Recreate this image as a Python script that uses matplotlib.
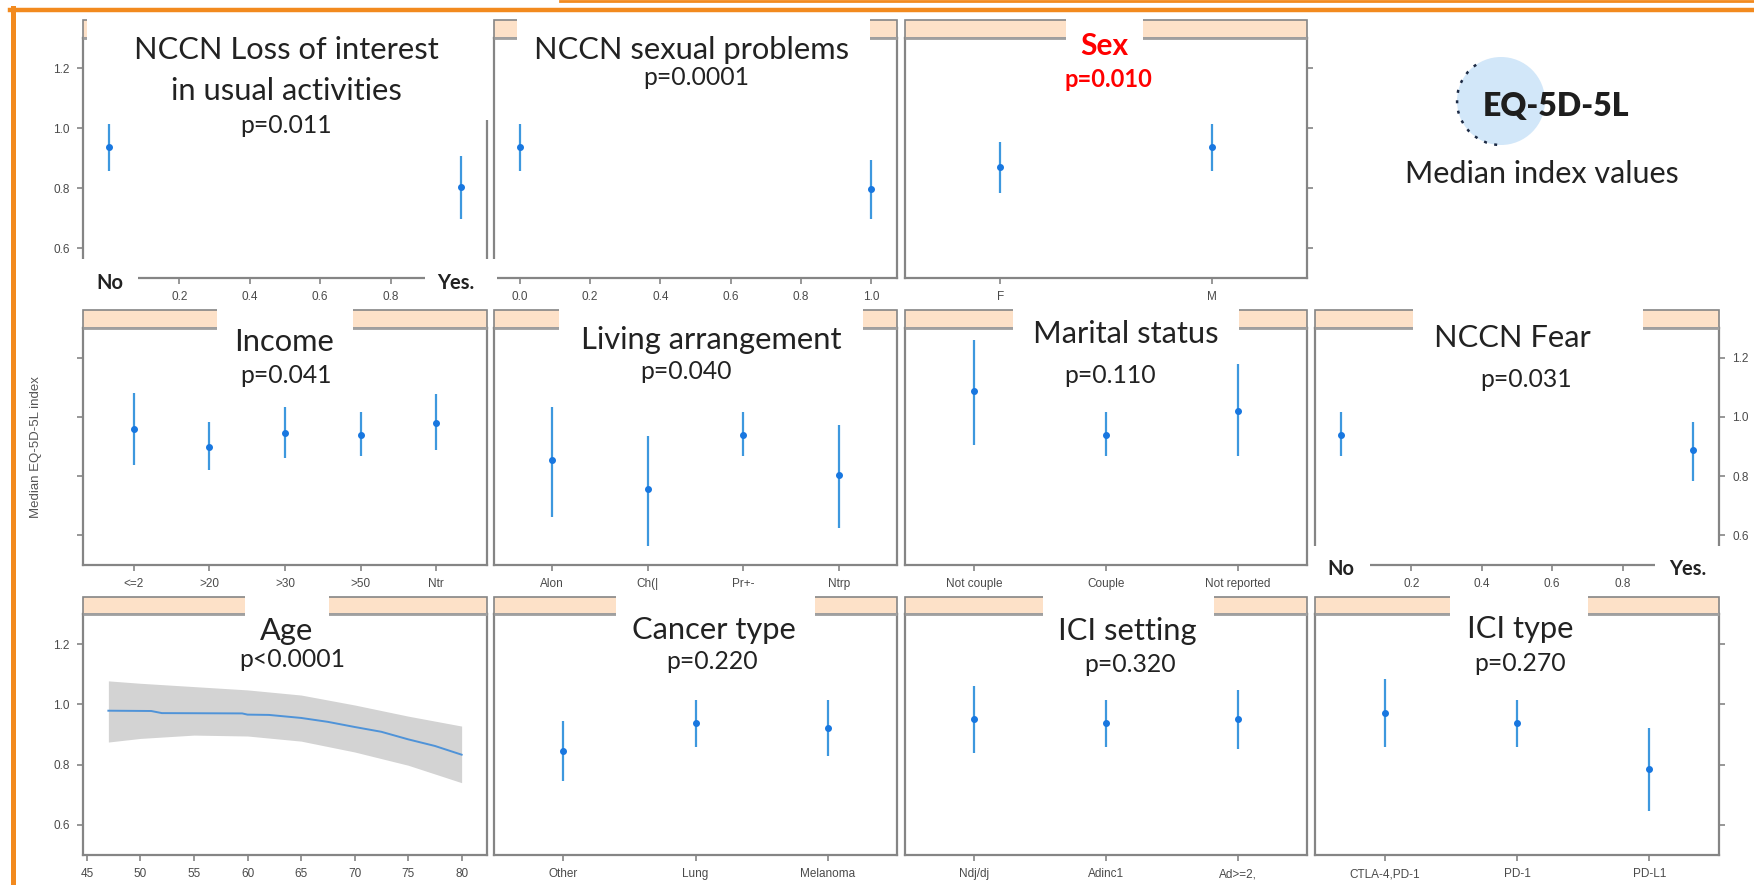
import matplotlib
matplotlib.use("Agg")
import matplotlib.pyplot as plt
from matplotlib.patches import Rectangle, Ellipse, Arc

# ---- data (fit, lower, upper) ----
loss_x = [0, 1]
loss_fit = [0.938, 0.804]
loss_lo = [0.858, 0.696]
loss_hi = [1.015, 0.908]

sexprob_x = [0, 1]
sexprob_fit = [0.938, 0.797]
sexprob_lo = [0.858, 0.696]
sexprob_hi = [1.015, 0.892]

sex_levels = ["F", "M"]
sex_fit = [0.871, 0.938]
sex_lo = [0.784, 0.858]
sex_hi = [0.955, 1.015]

income_levels = ["<=2", ">20", ">30", ">50", "Ntr"]
income_fit = [0.959, 0.900, 0.945, 0.939, 0.979]
income_lo = [0.839, 0.822, 0.861, 0.867, 0.887]
income_hi = [1.080, 0.982, 1.033, 1.016, 1.077]

living_levels = ["Alon", "Ch(|", "Pr+-", "Ntrp"]
living_fit = [0.853, 0.755, 0.939, 0.805]
living_lo = [0.663, 0.564, 0.867, 0.626]
living_hi = [1.033, 0.937, 1.016, 0.971]

marital_levels = ["Not couple", "Couple", "Not reported"]
marital_fit = [1.087, 0.939, 1.021]
marital_lo = [0.906, 0.867, 0.867]
marital_hi = [1.261, 1.016, 1.180]

fear_x = [0, 1]
fear_fit = [0.939, 0.887]
fear_lo = [0.867, 0.785]
fear_hi = [1.016, 0.982]

age_x = [47, 51, 52, 59.5, 60, 62, 65, 67.5, 70, 72.5, 75, 77.5, 80]
age_fit = [0.979, 0.978, 0.971, 0.970, 0.966, 0.965, 0.955, 0.942, 0.925, 0.909, 0.884, 0.862, 0.833]
age_band_x = [47, 50, 55, 60, 65, 70, 75, 80]
age_lo = [0.875, 0.887, 0.898, 0.895, 0.878, 0.842, 0.798, 0.740]
age_hi = [1.078, 1.070, 1.059, 1.048, 1.031, 0.998, 0.961, 0.928]

cancer_levels = ["Other", "Lung", "Melanoma"]
cancer_fit = [0.845, 0.939, 0.923]
cancer_lo = [0.745, 0.859, 0.829]
cancer_hi = [0.945, 1.014, 1.014]

setting_levels = ["Ndj/dj", "Adinc1", "Ad>=2,"]
setting_fit = [0.953, 0.939, 0.951]
setting_lo = [0.840, 0.859, 0.851]
setting_hi = [1.062, 1.014, 1.048]

icitype_levels = ["CTLA-4,PD-1", "PD-1", "PD-L1"]
icitype_fit = [0.972, 0.939, 0.784]
icitype_lo = [0.859, 0.859, 0.645]
icitype_hi = [1.084, 1.014, 0.920]

# ---- styling ----
W, H = 1754, 885
FRAME = "#858585"
PEACH = "#FDE1C8"
PT = "#1877E0"
CI = "#3D98DE"
ORANGE = "#F28A1E"
TICKC = "#4a4a4a"
TXT = "#222222"
TITLE_FONT = ["Lato", "DejaVu Sans"]
TICK_FONT = ["Liberation Sans", "DejaVu Sans"]

fig = plt.figure(figsize=(W / 100, H / 100), dpi=100)
fig.patch.set_facecolor("white")

cols = [(83, 487), (494, 897), (905, 1307), (1315, 1719)]
rows = [(20, 38, 278), (310, 328, 565), (597, 614, 855)]


def panel(r, c):
    x0, x1 = cols[c]
    _, y0, y1 = rows[r]
    ax = fig.add_axes([x0 / W, 1 - y1 / H, (x1 - x0) / W, (y1 - y0) / H])
    for s in ax.spines.values():
        s.set_color(FRAME)
        s.set_linewidth(1.6)
    ax.set_ylim(0.5, 1.3)
    ax.set_yticks([0.6, 0.8, 1.0, 1.2])
    ax.tick_params(colors=FRAME, labelcolor=TICKC, labelsize=8.5, length=4.5,
                   width=1.2, pad=5, left=False, labelleft=False)
    return ax


def fix_font(ax):
    for lab in ax.get_xticklabels() + ax.get_yticklabels():
        lab.set_family(TICK_FONT)


def factor_panel(ax, levels, fit, lo, hi):
    n = len(levels)
    pos = list(range(1, n + 1))
    ax.vlines(pos, lo, hi, color=CI, lw=1.6)
    ax.plot(pos, fit, "o", ms=4, color=PT)
    pad = 0.3 + 0.075 * n
    ax.set_xlim(1 - pad, n + pad)
    ax.set_xticks(pos)
    ax.set_xticklabels(levels)


def numeric_panel(ax, x, fit, lo, hi):
    ax.vlines(x, lo, hi, color=CI, lw=1.6)
    ax.plot(x, fit, "o", ms=4, color=PT)
    ax.set_xlim(-0.074, 1.074)
    ax.set_xticks([0, 0.2, 0.4, 0.6, 0.8, 1.0])
    ax.set_xticklabels(["0.0", "0.2", "0.4", "0.6", "0.8", "1.0"])


# row 1
ax = panel(0, 0)
numeric_panel(ax, loss_x, loss_fit, loss_lo, loss_hi)
ax.tick_params(axis="y", left=True, labelleft=True)
fix_font(ax)
ax = panel(0, 1)
numeric_panel(ax, sexprob_x, sexprob_fit, sexprob_lo, sexprob_hi)
fix_font(ax)
ax = panel(0, 2)
factor_panel(ax, sex_levels, sex_fit, sex_lo, sex_hi)
ax.tick_params(axis="y", right=True)
fix_font(ax)

# row 2
ax = panel(1, 0)
factor_panel(ax, income_levels, income_fit, income_lo, income_hi)
ax.tick_params(axis="y", left=True)
fix_font(ax)
ax = panel(1, 1)
factor_panel(ax, living_levels, living_fit, living_lo, living_hi)
fix_font(ax)
ax = panel(1, 2)
factor_panel(ax, marital_levels, marital_fit, marital_lo, marital_hi)
fix_font(ax)
ax = panel(1, 3)
numeric_panel(ax, fear_x, fear_fit, fear_lo, fear_hi)
ax.tick_params(axis="y", right=True, labelright=True)
fix_font(ax)

# row 3
ax = panel(2, 0)
ax.fill_between(age_band_x, age_lo, age_hi, color="#d3d3d3", lw=0)
ax.plot(age_x, age_fit, color="#4f93d8", lw=1.4)
ax.set_xlim(47 - 2.37, 80 + 2.37)
ax.set_xticks(range(45, 81, 5))
ax.tick_params(axis="y", left=True, labelleft=True)
fix_font(ax)
ax = panel(2, 1)
factor_panel(ax, cancer_levels, cancer_fit, cancer_lo, cancer_hi)
fix_font(ax)
ax = panel(2, 2)
factor_panel(ax, setting_levels, setting_fit, setting_lo, setting_hi)
fix_font(ax)
ax = panel(2, 3)
factor_panel(ax, icitype_levels, icitype_fit, icitype_lo, icitype_hi)
ax.tick_params(axis="y", right=True)
fix_font(ax)

# ---- overlay in pixel coordinates: strips, white text boxes, titles ----
ov = fig.add_axes([0, 0, 1, 1], zorder=10)
ov.set_xlim(0, W)
ov.set_ylim(H, 0)
ov.axis("off")
ov.patch.set_alpha(0)

strip_cells = [(0, 0), (0, 1), (0, 2), (1, 0), (1, 1), (1, 2), (1, 3),
               (2, 0), (2, 1), (2, 2), (2, 3)]
for r, c in strip_cells:
    x0, x1 = cols[c]
    st, pt, _ = rows[r]
    ov.add_patch(Rectangle((x0, st), x1 - x0, pt - st, fc=PEACH, ec=FRAME, lw=1.2, zorder=1))
    ov.plot([x0, x1], [pt, pt], color="#a0a0a0", lw=2.0, zorder=1.5, solid_capstyle="butt")

white_boxes = [
    (87, 13, 490, 120), (70, 259, 138, 306), (425, 259, 496.5, 306),
    (517, 14, 870, 42), (1066, 14, 1143, 42),
    (217, 304, 353, 332), (559, 304, 863, 332), (1013, 304, 1239, 332), (1413, 304, 1643, 332),
    (1311, 546, 1370, 592), (1655, 546, 1724, 592),
    (245, 592, 329, 618), (616, 592, 815, 618), (1043, 592, 1214, 618), (1450, 592, 1588, 618),
]
for x0, y0, x1, y1 in white_boxes:
    ov.add_patch(Rectangle((x0, y0), x1 - x0, y1 - y0, fc="white", ec="none", zorder=3))

titles = [
    ("NCCN Loss of interest", 286, 59), ("in usual activities", 286, 100),
    ("NCCN sexual problems", 692, 59), ("Income", 284, 351),
    ("Living arrangement", 711, 349), ("Marital status", 1126, 343),
    ("NCCN Fear", 1512, 347), ("Age", 287, 640), ("Cancer type", 714, 639),
    ("ICI setting", 1127, 640), ("ICI type", 1520, 638),
]
for t, x, y in titles:
    ov.text(x, y, t, ha="center", va="baseline", fontsize=22.2, color=TXT,
            family=TITLE_FONT, zorder=5)

pvals = [
    ("p=0.011", 286, 133), ("p=0.0001", 696, 85), ("p=0.041", 286, 383),
    ("p=0.040", 686, 379), ("p=0.110", 1110, 383), ("p=0.031", 1526, 387),
    ("p<0.0001", 292, 667), ("p=0.220", 712, 669), ("p=0.320", 1130, 672),
    ("p=0.270", 1520, 671),
]
for t, x, y in pvals:
    ov.text(x, y, t, ha="center", va="baseline", fontsize=17.8, color=TXT,
            family=TITLE_FONT, zorder=5)

ov.text(1104, 55, "Sex", ha="center", va="baseline", fontsize=21.5, color="#FF0000",
        fontweight="bold", family=TITLE_FONT, zorder=5)
ov.text(1108, 87, "p=0.010", ha="center", va="baseline", fontsize=17, color="#FF0000",
        fontweight="bold", family=TITLE_FONT, zorder=5)

for t, x, y in [("No", 110, 289), ("Yes.", 456, 289), ("No", 1341, 575), ("Yes.", 1688, 575)]:
    ov.text(x, y, t, ha="center", va="baseline", fontsize=14.5, color=TXT,
            fontweight="bold", family=TITLE_FONT, zorder=5)

ov.text(36, 447, "Median EQ-5D-5L index", rotation=90, ha="center", va="center",
        fontsize=9.5, color="#555555", family=TICK_FONT, zorder=5)

# logo
ov.add_patch(Ellipse((1501, 101), 88, 88, fc="#D2E7F9", ec="none", zorder=2))
ov.add_patch(Arc((1501, 101), 88, 88, theta1=95, theta2=245, ec="#1d2b45", lw=1.8,
                 ls=(0, (1.2, 3.0)), zorder=2.5))
ov.text(1556, 116, "EQ-5D-5L", ha="center", va="baseline", fontsize=23, color="#1e1e1e",
        fontweight="heavy", family=TITLE_FONT, zorder=5)
ov.text(1542, 183, "Median index values", ha="center", va="baseline", fontsize=22,
        color=TXT, family=TITLE_FONT, zorder=5)

# slide frame
ov.plot([12.5, 12.5], [8, H], color=ORANGE, lw=3.6, clip_on=False, zorder=6)
ov.plot([10, W], [9.5, 9.5], color=ORANGE, lw=3.2, clip_on=False, zorder=6)
ov.plot([560, W], [1.2, 1.2], color=ORANGE, lw=2.0, clip_on=False, zorder=6)

fig.savefig("out.png", dpi=100, facecolor="white")
